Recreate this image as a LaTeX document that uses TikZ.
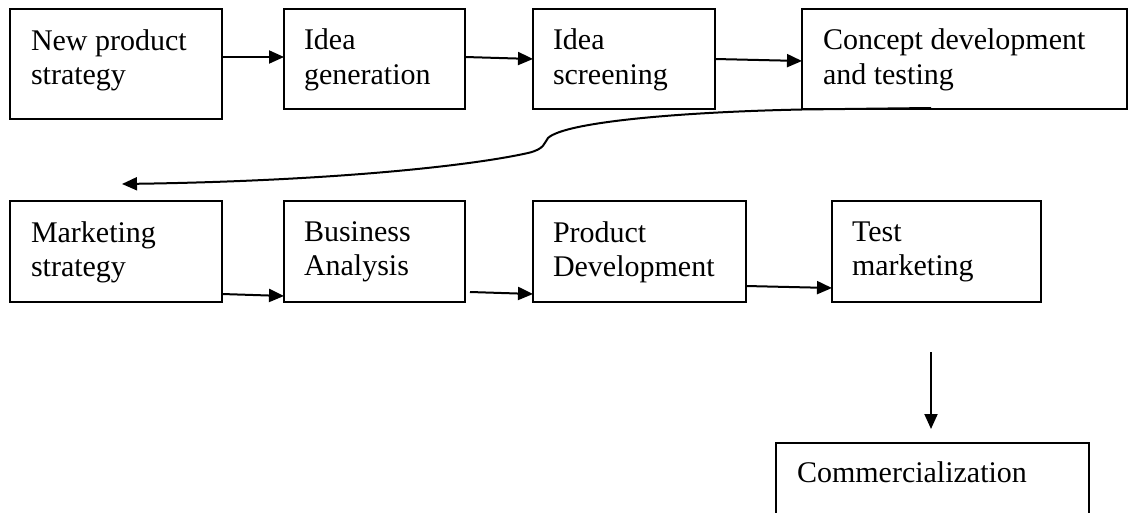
\documentclass[tikz,border=0pt]{standalone}
\usepackage{fontspec}
\setmainfont{Liberation Serif}
\usetikzlibrary{arrows.meta}
\tikzset{
  pbox/.style={draw=black, line width=1.6pt, rectangle, inner sep=0pt, outer sep=0pt, anchor=north west},
  lbl/.style={anchor=north west, inner sep=0pt, outer sep=0pt, align=left, font=\fontsize{30}{34.5}\selectfont},
  arr/.style={line width=2pt, -{Triangle[length=15pt,width=13pt]}},
}
\begin{document}
\begin{tikzpicture}[x=1pt,y=-1pt]
\useasboundingbox (0,0) rectangle (1129,513);
\clip (0,0) rectangle (1129,513);
% row 1
\node[pbox, minimum width=212pt, minimum height=110pt] (b1) at (10,9) {};
\node[pbox, minimum width=181pt, minimum height=100pt] (b2) at (284,9) {};
\node[pbox, minimum width=182pt, minimum height=100pt] (b3) at (533,9) {};
\node[pbox, minimum width=325pt, minimum height=100pt] (b4) at (802,9) {};
% row 2
\node[pbox, minimum width=212pt, minimum height=101pt] (b5) at (10,201) {};
\node[pbox, minimum width=181pt, minimum height=101pt] (b6) at (284,201) {};
\node[pbox, minimum width=213pt, minimum height=101pt] (b7) at (533,201) {};
\node[pbox, minimum width=209pt, minimum height=101pt] (b8) at (832,201) {};
% last
\node[pbox, minimum width=313pt, minimum height=90pt] (b9) at (776,443) {};
% labels
\node[lbl] (t1) at ([xshift=21pt,yshift=-20.5pt]b1.north west) {New product\\strategy};
\node[lbl] (t2) at ([xshift=20pt,yshift=-20pt]b2.north west) {Idea\\generation};
\node[lbl] (t3) at ([xshift=20pt,yshift=-20pt]b3.north west) {Idea\\screening};
\node[lbl] (t4) at ([xshift=21pt,yshift=-20pt]b4.north west) {Concept development\\and testing};
\node[lbl] (t5) at ([xshift=21pt,yshift=-20.5pt]b5.north west) {Marketing\\strategy};
\node[lbl] (t6) at ([xshift=20pt,yshift=-20.5pt]b6.north west) {Business\\Analysis};
\node[lbl] (t7) at ([xshift=20pt,yshift=-20.5pt]b7.north west) {Product\\Development};
\node[lbl] (t8) at ([xshift=20pt,yshift=-20.5pt]b8.north west) {Test\\marketing};
\node[lbl] (t9) at ([xshift=21pt,yshift=-18.5pt]b9.north west) {Commercialization};
% arrows row 1
\draw[arr] ([yshift=7pt]b1.east) -- ([yshift=2pt]b2.west);
\draw[arr] ([yshift=2pt]b2.east) -- (b3.west);
\draw[arr] (b3.east) -- ([yshift=-2pt]b4.west);
% curved connector
\coordinate (c4) at (931,108);
\coordinate (c5) at (122,184);
\draw[arr] (c4) -- (802,109.5)
  .. controls (680,112) and (565,122) .. (548,138)
  .. controls (544,143) and (545,149) .. (528,153)
  .. controls (470,166) and (330,181) .. (c5);
% arrows row 2
\draw[arr] ([yshift=-42.5pt]b5.east) -- ([yshift=-44.5pt]b6.west);
\draw[arr] ([xshift=5pt,yshift=-40.5pt]b6.east) -- ([yshift=-42.5pt]b7.west);
\draw[arr] ([yshift=-34.5pt]b7.east) -- ([yshift=-36.5pt]b8.west);
% down arrow
\coordinate (c8) at (931,352);
\draw[arr, shorten >=14pt] (c8) -- (c8 |- b9.north);
\end{tikzpicture}
\end{document}
